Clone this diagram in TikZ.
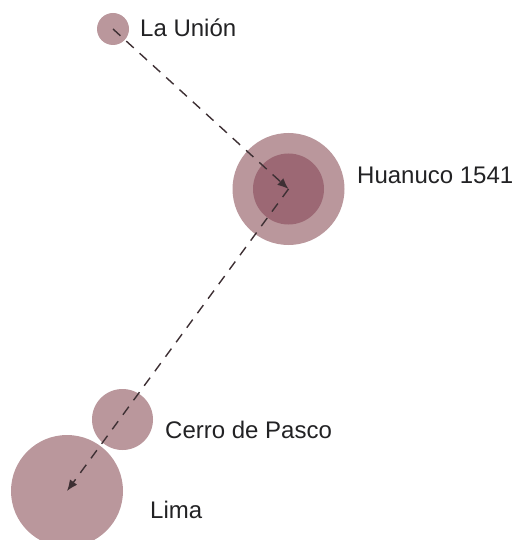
\documentclass[tikz,border=0pt]{standalone}
\usepackage{fontspec}
\setmainfont{Liberation Sans}
\usetikzlibrary{arrows.meta}
\definecolor{lightc}{HTML}{BA979C}
\definecolor{darkc}{HTML}{9C6874}
\definecolor{linec}{HTML}{3E3034}
\definecolor{textc}{HTML}{222224}
\begin{document}
\begin{tikzpicture}[x=1pt,y=-1pt,
  place/.style={circle,fill=lightc,draw=none,inner sep=0pt,minimum size=#1},
  core/.style={circle,fill=darkc,draw=none,inner sep=0pt,minimum size=#1},
  lbl/.style={anchor=base west,inner sep=0pt,text=textc,font=\fontsize{24}{28}\selectfont},
  route/.style={draw=linec,line width=1.4pt,dash pattern=on 10pt off 8pt,-{Latex[length=11pt,width=9pt]}}]
\useasboundingbox (0,0) rectangle (516,540);
\node[place=32pt] (lu) at (113,29) {};
\node[place=112pt] (huo) at (288.5,189) {};
\node[core=71pt] (hu) at (288.5,189) {};
\node[place=61pt] (cp) at (122.5,419.5) {};
\node[place=112pt] (li) at (67,491) {};
\node[lbl] (tlu) at (140,37) {La Unión};
\node[lbl] (thu) at (357,183) {Huanuco 1541};
\node[lbl] (tcp) at (165,438) {Cerro de Pasco};
\node[lbl] (tli) at (150,518) {Lima};
\draw[route] (lu.center) -- (hu.center);
\draw[route] (hu.center) -- (li.center);
\end{tikzpicture}
\end{document}
